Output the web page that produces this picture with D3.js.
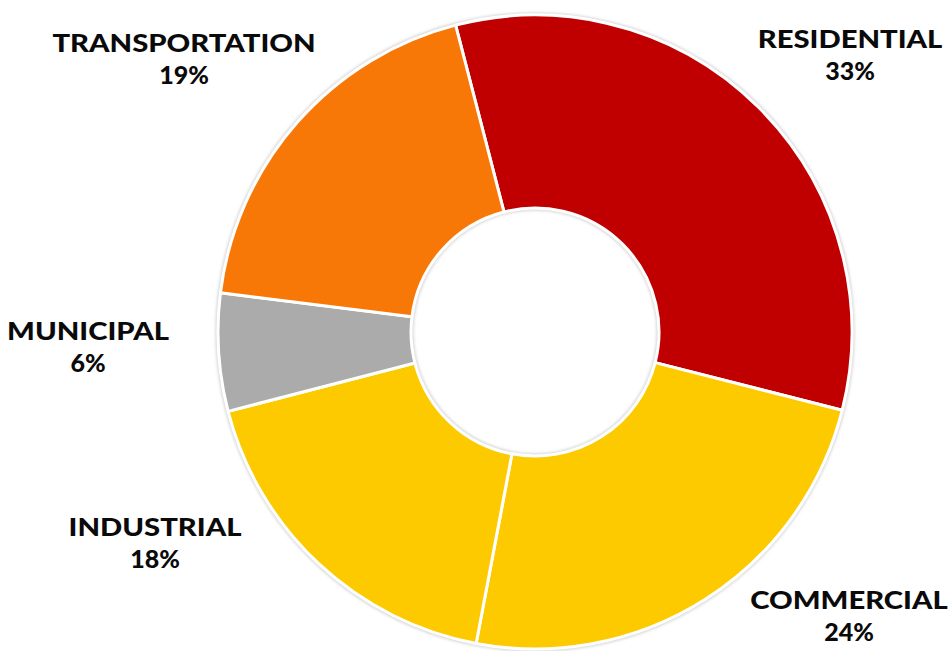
<!DOCTYPE html>
<html>
<head>
<meta charset="utf-8">
<script src="https://cdn.jsdelivr.net/npm/d3@7"></script>
<style>
  html, body { margin: 0; padding: 0; background: #ffffff; }
  svg { display: block; }
</style>
</head>
<body>
<svg id="chart" width="948" height="651"></svg>
<script>
// Energy use by sector (share of total, %)
const sectors = ["RESIDENTIAL", "COMMERCIAL", "INDUSTRIAL", "MUNICIPAL", "TRANSPORTATION"];
const shares = [33, 24, 18, 6, 19];
const sectorColors = ["#C00000", "#FDCA00", "#FDCA00", "#ABABAB", "#F77806"];

// Where each sector's two-line label sits (centre x, first baseline y)
const labelX = [850, 849, 155, 88, 184];
const labelY = [48, 609, 536, 340, 52];

const width = 948, height = 651;
const cx = 535, cy = 332;
const outerR = 317, innerR = 124;
const startDeg = -14.5;
const nameStretch = 1.17;   // widen the sector names horizontally

const svg = d3.select("#chart");

const defs = svg.append("defs");
const soft = defs.append("filter").attr("id", "soft")
  .attr("x", "-10%").attr("y", "-10%").attr("width", "120%").attr("height", "120%");
soft.append("feGaussianBlur").attr("stdDeviation", 1.6);

const data = sectors.map((s, i) => ({ name: s, value: shares[i], color: sectorColors[i] }));

const pie = d3.pie()
  .value(d => d.value)
  .sort(null)
  .startAngle(startDeg * Math.PI / 180)
  .endAngle(startDeg * Math.PI / 180 + 2 * Math.PI);

const arc = d3.arc().innerRadius(innerR).outerRadius(outerR);

const g = svg.append("g").attr("transform", `translate(${cx},${cy})`);

// faint grey halo around the ring edges
g.append("path")
  .attr("d", d3.arc().innerRadius(innerR - 2.5).outerRadius(outerR + 2.5)({ startAngle: 0, endAngle: 2 * Math.PI }))
  .attr("fill", "#d4d4d4")
  .attr("filter", "url(#soft)");

g.selectAll("path.slice")
  .data(pie(data))
  .join("path")
  .attr("class", "slice")
  .attr("d", arc)
  .attr("fill", d => d.data.color)
  .attr("stroke", "#ffffff")
  .attr("stroke-width", 3)
  .attr("stroke-linejoin", "round");

// labels: sector name above its percentage
const labels = svg.append("g")
  .attr("font-family", "Lato, 'Open Sans', sans-serif")
  .attr("font-weight", 900)
  .attr("font-size", 25)
  .attr("fill", "#0a0a0a")
  .attr("text-anchor", "middle");

data.forEach((d, i) => {
  labels.append("text")
    .attr("transform", `translate(${labelX[i]},${labelY[i]}) scale(${nameStretch},1)`)
    .text(d.name);
  labels.append("text")
    .attr("x", labelX[i])
    .attr("y", labelY[i] + 32)
    .text(d.value + "%");
});
</script>
</body>
</html>
